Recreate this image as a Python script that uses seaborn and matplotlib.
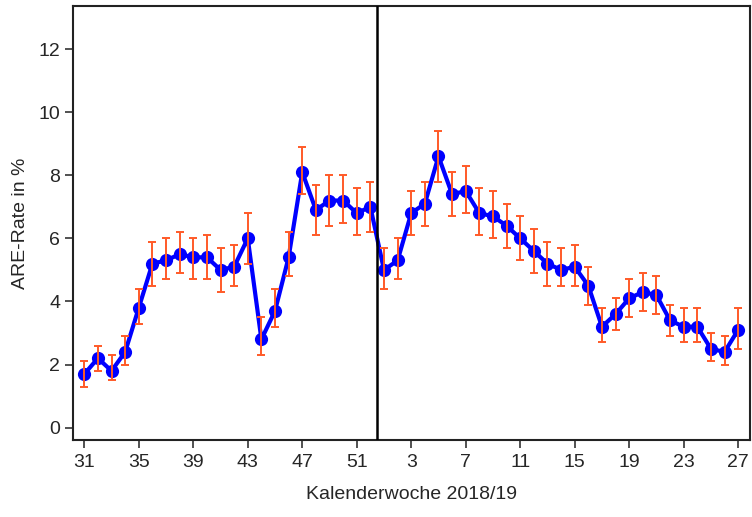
import numpy as np
import pandas as pd
import matplotlib
matplotlib.use("Agg")
import matplotlib.pyplot as plt
import seaborn as sns

weeks = [31, 32, 33, 34, 35, 36, 37, 38, 39, 40, 41, 42, 43, 44, 45, 46, 47, 48, 49, 50, 51, 52,
         1, 2, 3, 4, 5, 6, 7, 8, 9, 10, 11, 12, 13, 14, 15, 16, 17, 18, 19, 20, 21, 22, 23, 24, 25, 26, 27]
rate = [1.7, 2.2, 1.8, 2.4, 3.8, 5.2, 5.3, 5.5, 5.4, 5.4, 5.0, 5.1, 6.0, 2.8, 3.7, 5.4, 8.1, 6.9, 7.2, 7.2, 6.8, 7.0,
        5.0, 5.3, 6.8, 7.1, 8.6, 7.4, 7.5, 6.8, 6.7, 6.4, 6.0, 5.6, 5.2, 5.0, 5.1, 4.5, 3.2, 3.6, 4.1, 4.3, 4.2, 3.4, 3.2, 3.2, 2.5, 2.4, 3.1]
ci_low = [1.3, 1.8, 1.5, 2.0, 3.3, 4.5, 4.7, 4.9, 4.7, 4.7, 4.3, 4.5, 5.2, 2.3, 3.2, 4.8, 7.4, 6.1, 6.4, 6.5, 6.1, 6.2,
          4.4, 4.7, 6.1, 6.4, 7.8, 6.7, 6.8, 6.1, 6.0, 5.7, 5.3, 4.9, 4.5, 4.5, 4.5, 3.9, 2.7, 3.1, 3.5, 3.7, 3.6, 2.9, 2.7, 2.7, 2.1, 2.0, 2.5]
ci_high = [2.1, 2.6, 2.3, 2.9, 4.4, 5.9, 6.0, 6.2, 6.0, 6.1, 5.7, 5.8, 6.8, 3.5, 4.4, 6.2, 8.9, 7.7, 8.0, 8.0, 7.6, 7.8,
           5.7, 6.0, 7.5, 7.8, 9.4, 8.1, 8.3, 7.6, 7.5, 7.1, 6.7, 6.3, 5.9, 5.7, 5.8, 5.1, 3.8, 4.1, 4.7, 4.9, 4.8, 3.9, 3.8, 3.8, 3.0, 2.9, 3.8]
tick_weeks = [31, 35, 39, 43, 47, 51, 3, 7, 11, 15, 19, 23, 27]

df = pd.DataFrame({"idx": np.arange(len(weeks)), "week": weeks, "rate": rate,
                   "lo": ci_low, "hi": ci_high})

sns.set_theme(style="ticks")
plt.rcParams["font.family"] = ["Liberation Sans", "DejaVu Sans"]

fig = plt.figure(figsize=(7.52, 5.17), dpi=100)
ax = fig.add_axes([0.0967, 0.149, 0.9003, 0.839])

sns.lineplot(data=df, x="idx", y="rate", ax=ax, color="#0000FF", linewidth=3.0,
             marker="o", markersize=9.5, markeredgewidth=0, zorder=2)
ax.errorbar(df["idx"], df["rate"],
            yerr=[df["rate"] - df["lo"], df["hi"] - df["rate"]],
            fmt="none", ecolor="#FF5A28", elinewidth=1.4, capsize=3, capthick=1.4, zorder=3)

split = weeks.index(1) - 0.5
ax.axvline(split, color="black", linewidth=1.8, zorder=4)

tick_pos = [i for i, w in enumerate(weeks) if w in tick_weeks and not (w == 27 and i < 22) and not (w in (31, 35, 39, 43, 47, 51) and i >= 22)]
ax.set_xticks(tick_pos)
ax.set_xticklabels([str(weeks[i]) for i in tick_pos])
ax.set_yticks([0, 2, 4, 6, 8, 10, 12])
ax.set_xlim(-0.85, len(weeks) - 1 + 0.85)
ax.set_ylim(-0.39, 13.36)

ax.set_xlabel("Kalenderwoche 2018/19", fontsize=14, labelpad=11)
ax.set_ylabel("ARE-Rate in %", fontsize=14, labelpad=7)
ax.tick_params(axis="both", labelsize=14, length=5.5, width=1.2, color="#333333", direction="out")
ax.tick_params(axis="x", pad=4.5)
for s in ax.spines.values():
    s.set_visible(True)
    s.set_color("#222222")
    s.set_linewidth(1.5)
ax.grid(False)

fig.savefig("out.png", dpi=100, facecolor="white")
